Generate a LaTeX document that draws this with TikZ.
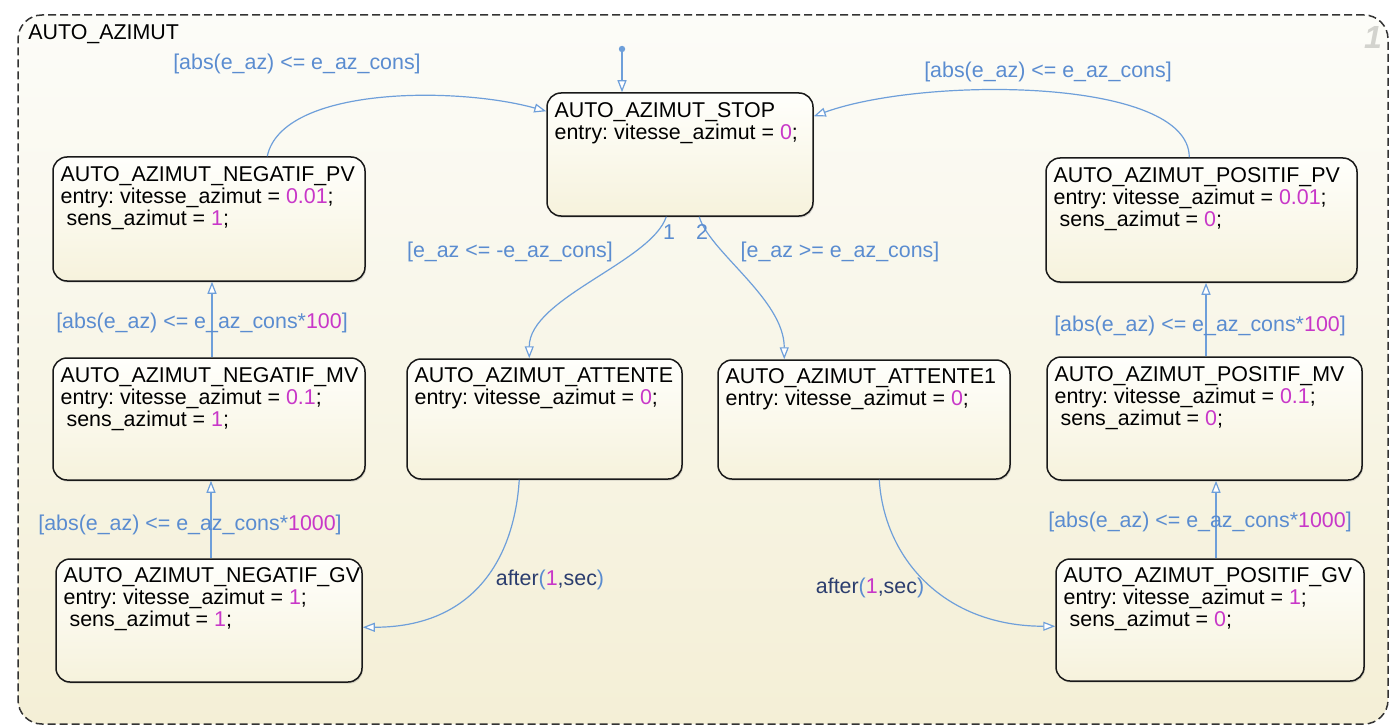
\documentclass[tikz,border=0pt]{standalone}
\usepackage{fontspec}
\setmainfont{Liberation Sans}
\usetikzlibrary{arrows.meta,calc,shadows}
\definecolor{bgtop}{HTML}{FCFCF8}
\definecolor{bgbot}{HTML}{F4EFD6}
\definecolor{sttop}{HTML}{FFFFFC}
\definecolor{stbot}{HTML}{F6F2DC}
\definecolor{tline}{HTML}{6E9FDA}
\definecolor{lblue}{HTML}{5A8CD0}
\definecolor{mag}{HTML}{C837C8}
\definecolor{navy}{HTML}{2B3D6E}
\definecolor{wm}{HTML}{D3D3CE}
\newcommand\fs{\fontsize{10.7}{11}\selectfont}
\newcommand\nm[1]{\textcolor{mag}{#1}}
\frenchspacing
\begin{document}
\begin{tikzpicture}[x=0.5pt,y=-0.5pt,
  container/.style={draw=black!80, line width=0.75pt, dash pattern=on 4pt off 2pt, rounded corners=12pt, top color=bgtop, bottom color=bgbot, inner sep=0},
  stbox/.style={draw=black!90, line width=0.75pt, rounded corners=7pt, top color=sttop, bottom color=stbot, inner sep=0, drop shadow={shadow xshift=0.5pt, shadow yshift=-0.8pt, opacity=0.3}},
  sttext/.style={anchor=north west, align=left, inner sep=0, font=\fs\frenchspacing, text=black},
  trans/.style={draw=tline, line width=0.6pt, -{Triangle[length=6pt,width=4.5pt,fill=white]}},
  lbl/.style={text=lblue, font=\fs\frenchspacing, inner sep=0},
]
\useasboundingbox (0,0) rectangle (1400,727);
% container
\node[container, minimum width=685pt, minimum height=354.5pt] (auto) at (703,369.5) {};
\node[anchor=base west, font=\fs, inner sep=0] (title) at (28,40) {AUTO\_AZIMUT};
\node[font=\fontsize{16}{16}\selectfont\bfseries\itshape, text=wm, inner sep=0] (num) at (1373,37) {1};

% states
\node[stbox, minimum width=133pt, minimum height=61.5pt] (stop) at (680,154.5) {};
\node[sttext] (stopt) at ($(stop.north west)+(8,10)$) {AUTO\_AZIMUT\_STOP\\entry: vitesse\_azimut = \nm{0};};

\node[stbox, minimum width=156pt, minimum height=62pt] (negpv) at (209,219) {};
\node[sttext] (negpvt) at ($(negpv.north west)+(8,10)$) {AUTO\_AZIMUT\_NEGATIF\_PV\\entry: vitesse\_azimut = \nm{0.01};\\\hspace*{3pt}sens\_azimut = \nm{1};};

\node[stbox, minimum width=155.5pt, minimum height=62pt] (pospv) at (1201.5,220) {};
\node[sttext] (pospvt) at ($(pospv.north west)+(8,10)$) {AUTO\_AZIMUT\_POSITIF\_PV\\entry: vitesse\_azimut = \nm{0.01};\\\hspace*{3pt}sens\_azimut = \nm{0};};

\node[stbox, minimum width=156pt, minimum height=61pt] (negmv) at (209,419) {};
\node[sttext] (negmvt) at ($(negmv.north west)+(8,10)$) {AUTO\_AZIMUT\_NEGATIF\_MV\\entry: vitesse\_azimut = \nm{0.1};\\\hspace*{3pt}sens\_azimut = \nm{1};};

\node[stbox, minimum width=157.5pt, minimum height=61.5pt] (posmv) at (1204.5,418.5) {};
\node[sttext] (posmvt) at ($(posmv.north west)+(8,10)$) {AUTO\_AZIMUT\_POSITIF\_MV\\entry: vitesse\_azimut = \nm{0.1};\\\hspace*{3pt}sens\_azimut = \nm{0};};

\node[stbox, minimum width=137.5pt, minimum height=60pt] (attente) at (544.5,419) {};
\node[sttext] (attentet) at ($(attente.north west)+(8,9)$) {AUTO\_AZIMUT\_ATTENTE\\entry: vitesse\_azimut = \nm{0};};

\node[stbox, minimum width=146pt, minimum height=59.5pt] (attente1) at (864,419.5) {};
\node[sttext] (attente1t) at ($(attente1.north west)+(8,9)$) {AUTO\_AZIMUT\_ATTENTE1\\entry: vitesse\_azimut = \nm{0};};

\node[stbox, minimum width=153pt, minimum height=61.5pt] (neggv) at (209,620.5) {};
\node[sttext] (neggvt) at ($(neggv.north west)+(8,9)$) {AUTO\_AZIMUT\_NEGATIF\_GV\\entry: vitesse\_azimut = \nm{1};\\\hspace*{3pt}sens\_azimut = \nm{1};};

\node[stbox, minimum width=154pt, minimum height=61pt] (posgv) at (1210,620) {};
\node[sttext] (posgvt) at ($(posgv.north west)+(8,9)$) {AUTO\_AZIMUT\_POSITIF\_GV\\entry: vitesse\_azimut = \nm{1};\\\hspace*{3pt}sens\_azimut = \nm{0};};

% transitions
\coordinate (init) at (622,49);
\fill[tline] (init) circle (1.6pt);
\draw[trans] (init) -- (init |- stop.north);

\draw[trans] ($(negpv.north west)+(215,0)$) .. controls +(15,-70) and +(-90,-25) .. ($(stop.north west)+(0,19)$);
\draw[trans] ($(pospv.north west)+(144,0)$) .. controls +(0,-80) and +(110,-40) .. ($(stop.north east)+(0,24)$);

\draw[trans] ($(stop.south west)+(120,0)$) .. controls +(-15,45) and +(0,-60) .. ($(attente.north west)+(123,0)$);
\draw[trans] ($(stop.south west)+(153,0)$) .. controls +(10,35) and +(0,-60) .. ($(attente1.north west)+(67,0)$);

\coordinate (v1) at ($(negmv.north)+(3,0)$);
\draw[trans] (v1) -- (v1 |- negpv.south);
\coordinate (v2) at ($(neggv.north)+(2,0)$);
\draw[trans] (v2) -- (v2 |- negmv.south);
\coordinate (v3) at ($(posmv.north)+(1.5,0)$);
\draw[trans] (v3) -- (v3 |- pospv.south);
\coordinate (v4) at ($(posgv.north)+(6,0)$);
\draw[trans] (v4) -- (v4 |- posmv.south);

\draw[trans] ($(attente.south west)+(113,0)$) .. controls +(-5,80) and +(110,0) .. ($(neggv.north east)+(0,69)$);
\draw[trans] ($(attente1.south west)+(162,0)$) .. controls +(5,80) and +(-110,0) .. ($(posgv.north west)+(0,68)$);

% labels
\node[lbl] (g1) at (297,64) {[abs(e\_az) <= e\_az\_cons]};
\node[lbl] (g2) at (1048,72) {[abs(e\_az) <= e\_az\_cons]};
\node[lbl] (g3) at (510,252) {[e\_az <= -e\_az\_cons]};
\node[lbl] (g4) at (840,252) {[e\_az >= e\_az\_cons]};
\node[lbl] (g5) at (202,323) {[abs(e\_az) <= e\_az\_cons*\nm{100}]};
\node[lbl] (g6) at (1200,326) {[abs(e\_az) <= e\_az\_cons*\nm{100}]};
\node[lbl] (g7) at (190,525) {[abs(e\_az) <= e\_az\_cons*\nm{1000}]};
\node[lbl] (g8) at (1200,522) {[abs(e\_az) <= e\_az\_cons*\nm{1000}]};
\node[lbl] (p1) at (669,232) {1};
\node[lbl] (p2) at (702,232) {2};
\node[lbl] (h1) at (550,580) {\textcolor{navy}{after}(\nm{1}\textcolor{navy}{,sec})};
\node[lbl] (h2) at (870,588) {\textcolor{navy}{after}(\nm{1}\textcolor{navy}{,sec})};
\end{tikzpicture}
\end{document}
